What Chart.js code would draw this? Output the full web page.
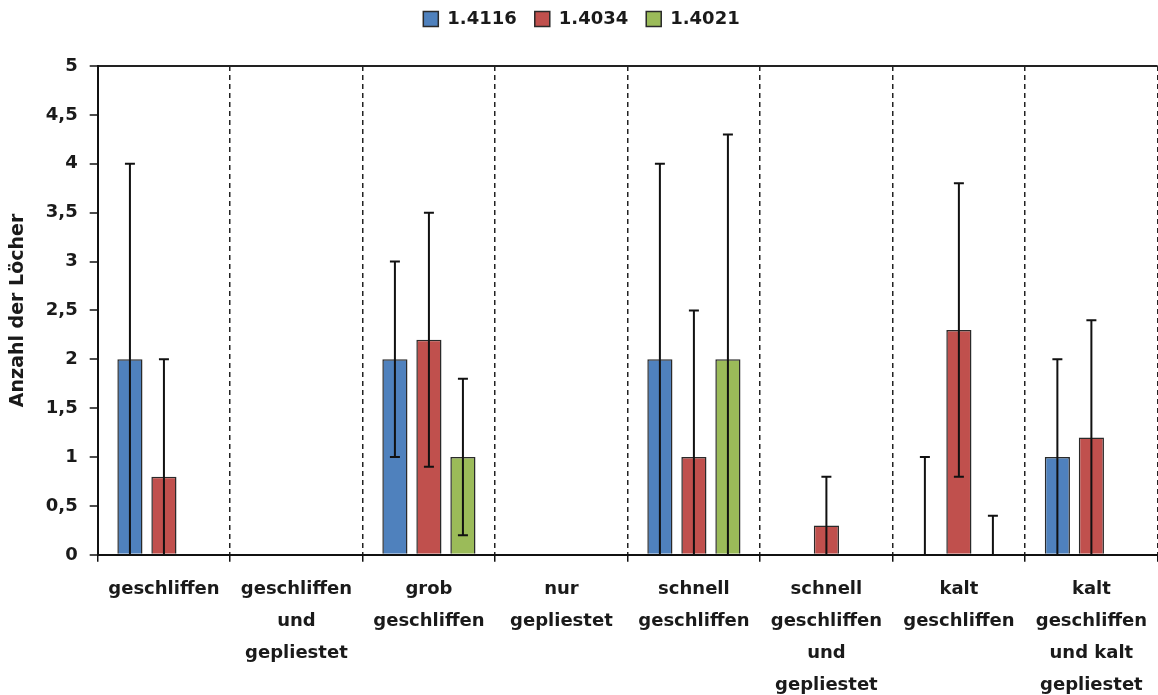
<!DOCTYPE html>
<html>
<head>
<meta charset="utf-8">
<script src="https://cdn.jsdelivr.net/npm/chart.js@4/dist/chart.umd.min.js"></script>
<style>
    body { margin: 0; background: #fff; }
    #wrap { width: 1158px; height: 695px; position: relative; }
</style>
</head>
<body>
<div id="wrap"><canvas id="chart"></canvas></div>
<script>
// categories (x axis), split into lines like the original
const categories = [
    ["geschliffen"],
    ["geschliffen", "und", "gepliestet"],
    ["grob", "geschliffen"],
    ["nur", "gepliestet"],
    ["schnell", "geschliffen"],
    ["schnell", "geschliffen", "und", "gepliestet"],
    ["kalt", "geschliffen"],
    ["kalt", "geschliffen", "und kalt", "gepliestet"]
];
const seriesNames = ["1.4116", "1.4034", "1.4021"];

// mean values
const values4116 = [2, null, 2, null, 2, null, 0, 1];
const values4034 = [0.8, null, 2.2, null, 1, 0.3, 2.3, 1.2];
const values4021 = [null, null, 1, null, 2, null, 0, null];

// standard deviations (error bars)
const err4116 = [2, null, 1, null, 2, null, 1, 1];
const err4034 = [1.2, null, 1.3, null, 1.5, 0.5, 1.5, 1.2];
const err4021 = [null, null, 0.8, null, 2.3, null, 0.4, null];

const yTicks = [0, 0.5, 1, 1.5, 2, 2.5, 3, 3.5, 4, 4.5, 5];

const errors = [err4116, err4034, err4021];
const colors = ["#4F81BD", "#C0504D", "#9BBB59"];
const FONT = "'DejaVu Sans', sans-serif";

// draws the error bars on top of the bars
const errorBars = {
    id: "errorBars",
    afterDatasetsDraw(chart) {
        const ctx = chart.ctx;
        const y = chart.scales.y;
        ctx.save();
        ctx.strokeStyle = "#111";
        ctx.lineWidth = 2;
        chart.data.datasets.forEach((ds, i) => {
            const meta = chart.getDatasetMeta(i);
            meta.data.forEach((bar, j) => {
                const v = ds.data[j];
                const e = errors[i][j];
                if (v === null || e === null) return;
                const top = y.getPixelForValue(v + e);
                const low = v - e;
                const bottom = y.getPixelForValue(Math.max(0, low));
                ctx.beginPath();
                ctx.moveTo(bar.x, top);
                ctx.lineTo(bar.x, bottom);
                ctx.moveTo(bar.x - 5, top);
                ctx.lineTo(bar.x + 5, top);
                if (low > 0) {
                    ctx.moveTo(bar.x - 5, bottom);
                    ctx.lineTo(bar.x + 5, bottom);
                }
                ctx.stroke();
            });
        });
        ctx.restore();
    }
};

// extra space under the legend
const legendGap = {
    id: "legendGap",
    beforeInit(chart) {
        const fit = chart.legend.fit;
        chart.legend.fit = function () {
            fit.bind(chart.legend)();
            this.height += 28;
        };
    }
};

new Chart(document.getElementById("chart"), {
    type: "bar",
    data: {
        labels: categories,
        datasets: [values4116, values4034, values4021].map((d, i) => ({
            label: seriesNames[i],
            data: d,
            backgroundColor: colors[i],
            borderColor: "#2a2a2a",
            borderWidth: 1.5,
            categoryPercentage: 0.77,
            barPercentage: 0.74
        }))
    },
    options: {
        responsive: true,
        maintainAspectRatio: false,
        animation: false,
        layout: { padding: { left: 5, right: 0, top: -8, bottom: -17 } },
        plugins: {
            tooltip: { enabled: false },
            legend: {
                position: "top",
                labels: {
                    boxWidth: 15,
                    boxHeight: 15,
                    padding: 18,
                    color: "#1a1a1a",
                    font: { family: FONT, size: 18, weight: "bold" }
                }
            }
        },
        scales: {
            x: {
                offset: true,
                grid: {
                    offset: true,
                    color: (c) => (c.index === 0 || c.index === categories.length) ? "rgba(0,0,0,0)" : "#222",
                    lineWidth: 1.5,
                    tickColor: "#111",
                    tickLength: 7,
                    tickWidth: 1.5,
                    tickBorderDash: []
                },
                border: { color: "#111", width: 2, dash: [5, 4] },
                ticks: {
                    color: "#1a1a1a",
                    padding: 11,
                    maxRotation: 0,
                    autoSkip: false,
                    font: { family: FONT, size: 18, weight: "bold", lineHeight: 1.78 }
                }
            },
            y: {
                min: 0,
                max: 5,
                afterBuildTicks: (s) => { s.ticks = yTicks.map(v => ({ value: v })); },
                grid: {
                    color: (c) => (c.tick && c.tick.value === 5) ? "#222" : "rgba(0,0,0,0)",
                    lineWidth: 2,
                    tickColor: "#111",
                    tickLength: 8,
                    tickWidth: 1.5
                },
                border: { color: "#111", width: 2 },
                ticks: {
                    color: "#1a1a1a",
                    padding: 12,
                    font: { family: FONT, size: 18, weight: "bold" },
                    callback: (v) => String(v).replace(".", ",")
                },
                title: {
                    display: true,
                    text: "Anzahl der Löcher",
                    color: "#1a1a1a",
                    padding: { top: 2, bottom: 4 },
                    font: { family: FONT, size: 19, weight: "bold" }
                }
            }
        }
    },
    plugins: [errorBars, legendGap]
});
</script>
</body>
</html>
